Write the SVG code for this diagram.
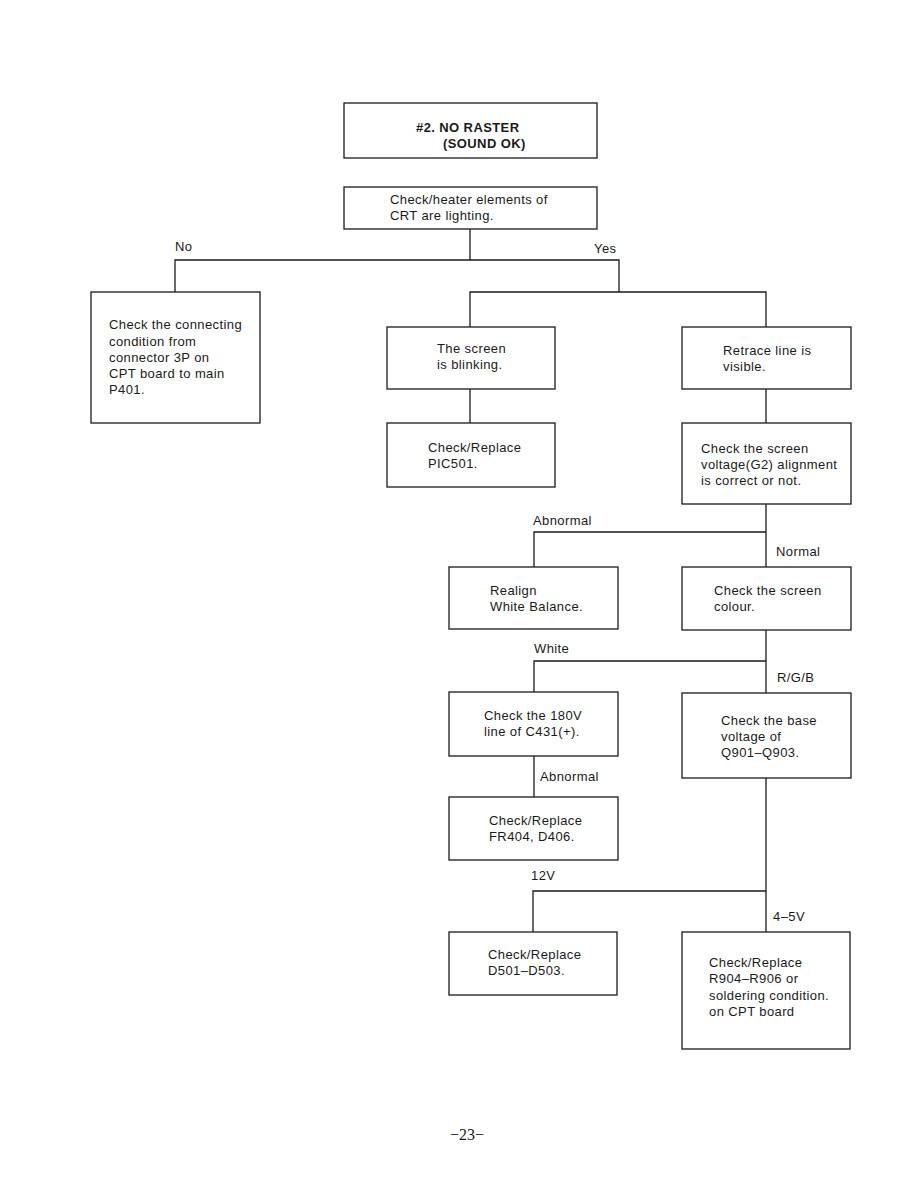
<svg xmlns="http://www.w3.org/2000/svg" width="918" height="1188" viewBox="0 0 918 1188">
<style>
.bg{fill:#fff}
.box{fill:#fff;stroke:#1a1a1a;stroke-width:1.3}
.t{font-family:"Liberation Sans",Arial,sans-serif;font-size:13px;letter-spacing:0.4px;fill:#1a1a1a}
.b{font-weight:bold;font-size:13px}
.c line,.c polyline{stroke:#1a1a1a;stroke-width:1.3;fill:none}
.pg{font-family:"Liberation Serif","Times New Roman",serif;font-size:16px;fill:#1a1a1a}
</style>
<rect class="bg" x="0" y="0" width="918" height="1188"/>
<g id="connectors" class="c">
<line x1="470" y1="229" x2="470" y2="260"/>
<polyline points="175,292 175,260 619,260 619,292"/>
<polyline points="470,327 470,292 766,292 766,327"/>
<line x1="470" y1="389" x2="470" y2="423"/>
<line x1="766" y1="389" x2="766" y2="423"/>
<line x1="766" y1="504" x2="766" y2="567"/>
<polyline points="534,567 534,532 766,532"/>
<line x1="766" y1="630" x2="766" y2="693"/>
<polyline points="534,692 534,661 766,661"/>
<line x1="534" y1="756" x2="534" y2="797"/>
<line x1="766" y1="778" x2="766" y2="932"/>
<polyline points="533,932 533,891 766,891"/>
</g>
<g id="labels" class="t">
<text x="175" y="251">No</text>
<text x="594" y="253">Yes</text>
<text x="533" y="525">Abnormal</text>
<text x="776" y="556">Normal</text>
<text x="534" y="653">White</text>
<text x="777" y="682">R/G/B</text>
<text x="540" y="781">Abnormal</text>
<text x="531" y="880">12V</text>
<text x="773" y="921">4–5V</text>
</g>
<g id="n-title"><rect class="box" x="344" y="103" width="253" height="55"/>
<text class="t b" x="416" y="132">#2. NO RASTER</text>
<text class="t b" x="443" y="148">(SOUND OK)</text></g>
<g id="n-heater"><rect class="box" x="344" y="187" width="253" height="42"/>
<text class="t" x="390" y="204">Check/heater elements of</text>
<text class="t" x="390" y="220">CRT are lighting.</text></g>
<g id="n-connect"><rect class="box" x="91" y="292" width="169" height="131"/>
<text class="t" x="109" y="329">Check the connecting</text>
<text class="t" x="109" y="346">condition from</text>
<text class="t" x="109" y="362">connector 3P on</text>
<text class="t" x="109" y="378">CPT board to main</text>
<text class="t" x="109" y="394">P401.</text></g>
<g id="n-blink"><rect class="box" x="387" y="327" width="168" height="62"/>
<text class="t" x="437" y="353">The screen</text>
<text class="t" x="437" y="369">is blinking.</text></g>
<g id="n-retrace"><rect class="box" x="682" y="327" width="169" height="62"/>
<text class="t" x="723" y="355">Retrace line is</text>
<text class="t" x="723" y="371">visible.</text></g>
<g id="n-pic501"><rect class="box" x="387" y="423" width="168" height="64"/>
<text class="t" x="428" y="452">Check/Replace</text>
<text class="t" x="428" y="468">PIC501.</text></g>
<g id="n-g2"><rect class="box" x="682" y="423" width="169" height="81"/>
<text class="t" x="701" y="453">Check the screen</text>
<text class="t" x="701" y="469">voltage(G2) alignment</text>
<text class="t" x="701" y="485">is correct or not.</text></g>
<g id="n-realign"><rect class="box" x="449" y="567" width="169" height="62"/>
<text class="t" x="490" y="595">Realign</text>
<text class="t" x="490" y="611">White Balance.</text></g>
<g id="n-colour"><rect class="box" x="682" y="567" width="169" height="63"/>
<text class="t" x="714" y="595">Check the screen</text>
<text class="t" x="714" y="611">colour.</text></g>
<g id="n-180v"><rect class="box" x="449" y="692" width="169" height="64"/>
<text class="t" x="484" y="720">Check the 180V</text>
<text class="t" x="484" y="736">line of C431(+).</text></g>
<g id="n-base"><rect class="box" x="682" y="693" width="169" height="85"/>
<text class="t" x="721" y="725">Check the base</text>
<text class="t" x="721" y="741">voltage of</text>
<text class="t" x="721" y="757">Q901–Q903.</text></g>
<g id="n-fr404"><rect class="box" x="449" y="797" width="169" height="63"/>
<text class="t" x="489" y="825">Check/Replace</text>
<text class="t" x="489" y="841">FR404, D406.</text></g>
<g id="n-d501"><rect class="box" x="449" y="932" width="168" height="63"/>
<text class="t" x="488" y="959">Check/Replace</text>
<text class="t" x="488" y="975">D501–D503.</text></g>
<g id="n-r904"><rect class="box" x="682" y="932" width="168" height="117"/>
<text class="t" x="709" y="967">Check/Replace</text>
<text class="t" x="709" y="983">R904–R906 or</text>
<text class="t" x="709" y="1000">soldering condition.</text>
<text class="t" x="709" y="1016">on CPT board</text></g>
<text class="pg" x="450" y="1140">−23−</text>
</svg>
